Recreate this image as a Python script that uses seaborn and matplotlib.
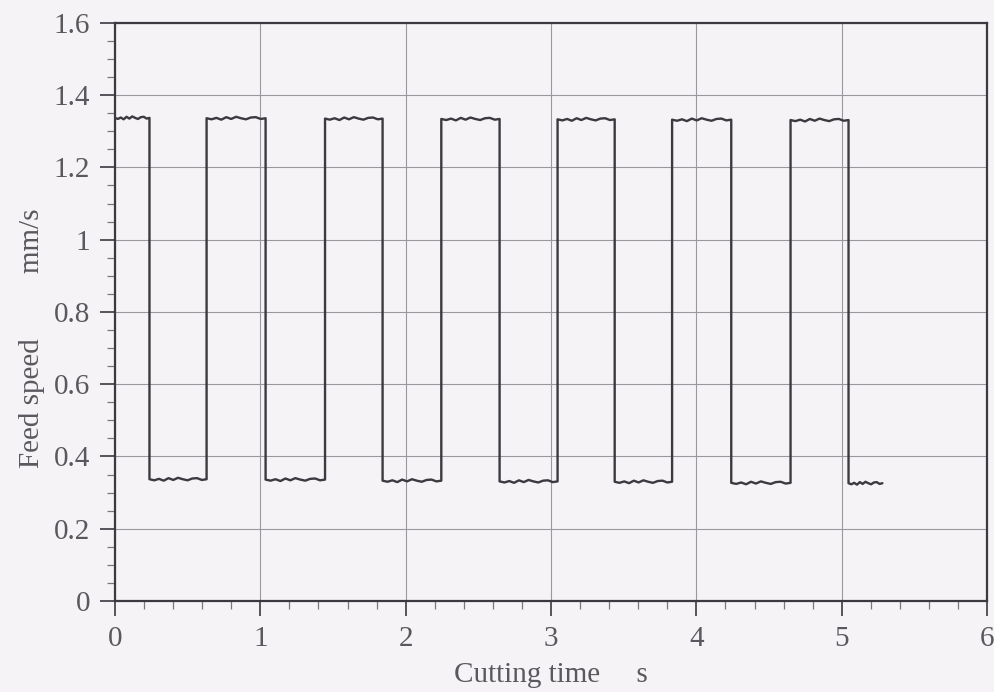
import numpy as np
import pandas as pd
import matplotlib
matplotlib.use("Agg")
import matplotlib.pyplot as plt
from matplotlib.ticker import MultipleLocator
import seaborn as sns

# Feed speed record: switching instants (s) and the level held between them (mm/s)
switch_times = [0.0, 0.237, 0.630, 1.036, 1.445, 1.841, 2.245, 2.646,
                3.045, 3.438, 3.833, 4.240, 4.648, 5.047, 5.280]
segment_levels = [1.337, 0.337, 1.336, 0.336, 1.335, 0.333, 1.334,
                  0.331, 1.333, 0.330, 1.332, 0.327, 1.331, 0.326]
# small ripple measured along each plateau (mm/s)
ripple = [0.0, -0.003, 0.001, -0.004, 0.003, -0.002, 0.004, 0.0,
          -0.003, 0.002, 0.003, -0.002, 0.0]

x_ticks = [0, 1, 2, 3, 4, 5, 6]
y_ticks = [0, 0.2, 0.4, 0.6, 0.8, 1.0, 1.2, 1.4, 1.6]
y_tick_labels = ["0", "0.2", "0.4", "0.6", "0.8", "1", "1.2", "1.4", "1.6"]

# Build the trace: each plateau sampled at the ripple points, joined by vertical edges
xs, ys = [], []
for i, level in enumerate(segment_levels):
    t0, t1 = switch_times[i], switch_times[i + 1]
    n = len(ripple)
    for k, r in enumerate(ripple):
        xs.append(t0 + (t1 - t0) * k / (n - 1))
        ys.append(level + (0.0 if k in (0, n - 1) else r))
df = pd.DataFrame({"t": xs, "v": ys})

sns.set_theme(style="white")
plt.rcParams["font.family"] = ["Liberation Serif", "DejaVu Serif"]

bg = "#f5f3f5"
ink = "#3c3a40"
txt = "#5a585e"

fig, ax = plt.subplots(figsize=(9.95, 6.92), dpi=100)
fig.patch.set_facecolor(bg)
ax.set_facecolor(bg)
fig.subplots_adjust(left=0.1156, right=0.992, top=0.967, bottom=0.1315)

sns.lineplot(data=df, x="t", y="v", sort=False, estimator=None,
             color=ink, linewidth=1.7, ax=ax)

ax.set_xlim(0, 6)
ax.set_ylim(0, 1.6)
ax.set_xticks(x_ticks)
ax.set_xticklabels([str(t) for t in x_ticks])
ax.set_yticks(y_ticks)
ax.set_yticklabels(y_tick_labels)
ax.xaxis.set_minor_locator(MultipleLocator(0.2))
ax.yaxis.set_minor_locator(MultipleLocator(0.05))

ax.grid(True, which="major", color="#9a989e", linewidth=0.8)
ax.set_axisbelow(True)
for s in ax.spines.values():
    s.set_visible(True)
    s.set_color(ink)
    s.set_linewidth(1.6)

ax.tick_params(which="major", direction="out", length=11, width=1.2,
               color=ink, labelsize=21, labelcolor=txt, pad=7,
               bottom=True, left=True, top=False, right=False)
ax.tick_params(which="minor", direction="out", length=5.5, width=0.9,
               color="#7a787e", bottom=True, left=True, top=False, right=False)

ax.set_xlabel("Cutting time     s", fontsize=21, color=txt, labelpad=7)
ax.set_ylabel("Feed speed         mm/s", fontsize=21, color=txt)
ax.yaxis.set_label_coords(-0.08, 0.455)

fig.savefig("out.png", dpi=100, facecolor=bg)
